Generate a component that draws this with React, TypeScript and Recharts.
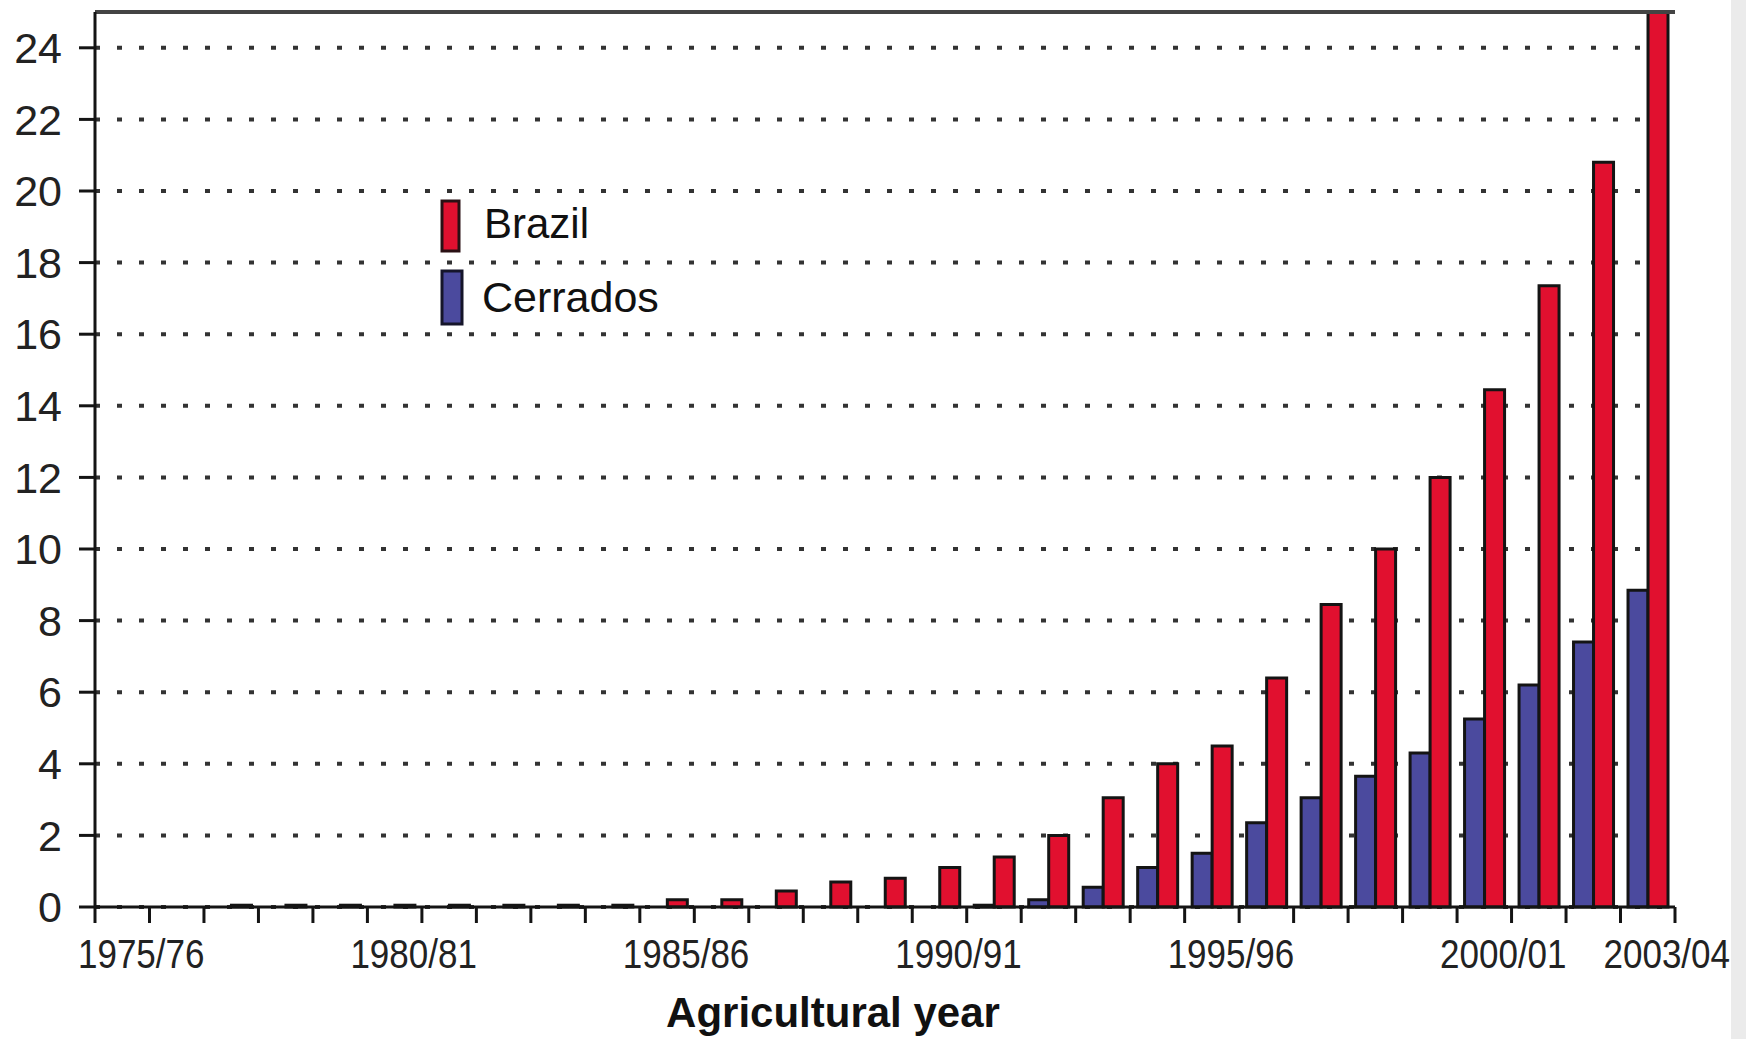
import React from 'react';
import { BarChart, Bar, XAxis, YAxis, CartesianGrid, Legend, ReferenceLine } from 'recharts';

// ---------- data ----------
const YEARS = [
  '1975/76', '1976/77', '1977/78', '1978/79', '1979/80',
  '1980/81', '1981/82', '1982/83', '1983/84', '1984/85',
  '1985/86', '1986/87', '1987/88', '1988/89', '1989/90',
  '1990/91', '1991/92', '1992/93', '1993/94', '1994/95',
  '1995/96', '1996/97', '1997/98', '1998/99', '1999/00',
  '2000/01', '2001/02', '2002/03', '2003/04',
];
const BRAZIL = [
  0, 0, 0.05, 0.05, 0.05, 0.05, 0.05, 0.05, 0.05, 0.05,
  0.2, 0.2, 0.45, 0.7, 0.8, 1.1, 1.4, 2.0, 3.05, 4.0,
  4.5, 6.4, 8.45, 10.0, 12.0, 14.45, 17.35, 20.8, 25,
];
const CERRADOS = [
  0, 0, 0, 0, 0, 0, 0, 0, 0, 0,
  0, 0, 0, 0, 0, 0, 0.05, 0.2, 0.55, 1.1,
  1.5, 2.35, 3.05, 3.65, 4.3, 5.25, 6.2, 7.4, 8.85,
];
const Y_TICKS = [0, 2, 4, 6, 8, 10, 12, 14, 16, 18, 20, 22, 24];
const Y_MAX = 25;
const X_LABELS = ['1975/76', '1980/81', '1985/86', '1990/91', '1995/96', '2000/01', '2003/04'];
const X_TITLE = 'Agricultural year';
const SERIES_NAMES = { brazil: 'Brazil', cerrados: 'Cerrados' };

const data = YEARS.map((year, i) => ({ year, brazil: BRAZIL[i], cerrados: CERRADOS[i] }));

// ---------- style / layout ----------
const FONT = '"Liberation Sans", Arial, Helvetica, sans-serif';
const RED = '#E1102F';
const BLUE = '#4B4A9E';
const INK = '#141414';
const FRAME = '#444444';
const W = 1746;
const H = 1039;
const MARGIN = { top: 12, right: 71, bottom: 0, left: 0 };
const Y_W = 95;
const X_H = 132;
const PLOT_W = W - MARGIN.left - MARGIN.right - Y_W;
const HALF_BAND = PLOT_W / YEARS.length / 2;

function XTick(props: any) {
  const { x, y, payload, index } = props;
  const left = x - HALF_BAND;
  const isLast = index === YEARS.length - 1;
  return (
    <g>
      <line x1={left} x2={left} y1={y} y2={y + 16} stroke={INK} strokeWidth={3} />
      {isLast && (
        <line x1={x + HALF_BAND} x2={x + HALF_BAND} y1={y} y2={y + 16} stroke={INK} strokeWidth={3} />
      )}
      {X_LABELS.includes(payload.value) && (
        <text
          transform={`translate(${x + 19},${y + 61}) scale(0.875,1.02)`}
          textAnchor="middle"
          fontSize={40}
          fill="#222"
          fontFamily={FONT}
        >
          {payload.value}
        </text>
      )}
    </g>
  );
}

function XTitle(props: any) {
  const vb = props.viewBox || { x: 95, y: 907, width: 1580, height: 132 };
  return (
    <text
      x={vb.x + vb.width / 2 - 52}
      y={vb.y + 120}
      textAnchor="middle"
      fontSize={42}
      fontWeight="bold"
      fill="#111"
      fontFamily={FONT}
    >
      {X_TITLE}
    </text>
  );
}

function LegendBox() {
  return (
    <svg width={260} height={130} style={{ display: 'block', overflow: 'visible' }}>
      <rect x={2} y={2} width={17} height={50} fill={RED} stroke="#2a1014" strokeWidth={3} />
      <text x={44} y={39} fontSize={42} fill="#111" fontFamily={FONT}>
        {SERIES_NAMES.brazil}
      </text>
      <rect x={2} y={72} width={20} height={53} fill={BLUE} stroke="#15152a" strokeWidth={3} />
      <text x={42} y={113} fontSize={43} fill="#111" fontFamily={FONT}>
        {SERIES_NAMES.cerrados}
      </text>
    </svg>
  );
}

export default function App() {
  return (
    <div
      style={{
        position: 'absolute',
        left: 0,
        top: 0,
        width: W,
        height: H,
        background: '#ffffff',
        overflow: 'hidden',
      }}
    >
      <BarChart
        width={W}
        height={H}
        data={data}
        margin={MARGIN}
        barCategoryGap={7.5}
        barGap={0}
      >
        <CartesianGrid
          vertical={false}
          stroke="#333333"
          strokeWidth={4}
          strokeDasharray="5 17"
        />
        <XAxis
          dataKey="year"
          interval={0}
          height={X_H}
          tickSize={0}
          tickMargin={0}
          tickLine={false}
          axisLine={{ stroke: INK, strokeWidth: 3 }}
          tick={<XTick />}
          label={<XTitle />}
        />
        <YAxis
          domain={[0, Y_MAX]}
          ticks={Y_TICKS}
          interval={0}
          width={Y_W}
          tickSize={16}
          tickMargin={17}
          axisLine={{ stroke: INK, strokeWidth: 3 }}
          tickLine={{ stroke: INK, strokeWidth: 3 }}
          tick={{ fontSize: 43, fill: '#222', fontFamily: FONT }}
        />
        <YAxis
          yAxisId="frame"
          orientation="right"
          domain={[0, Y_MAX]}
          width={0}
          tick={false}
          tickLine={false}
          axisLine={{ stroke: FRAME, strokeWidth: 4 }}
        />
        <Legend
          layout="vertical"
          align="center"
          verticalAlign="middle"
          content={<LegendBox />}
          wrapperStyle={{ left: 440, top: 199, width: 260, height: 130 }}
        />
        <Bar
          dataKey="cerrados"
          name={SERIES_NAMES.cerrados}
          fill={BLUE}
          stroke={INK}
          strokeWidth={3}
          isAnimationActive={false}
        />
        <Bar
          dataKey="brazil"
          name={SERIES_NAMES.brazil}
          fill={RED}
          stroke={INK}
          strokeWidth={3}
          isAnimationActive={false}
        />
        <ReferenceLine y={Y_MAX} stroke={FRAME} strokeWidth={4} ifOverflow="visible" />
      </BarChart>
      <div
        style={{
          position: 'absolute',
          left: 1731,
          top: 0,
          width: 15,
          height: H,
          background: '#ebebeb',
        }}
      />
    </div>
  );
}
